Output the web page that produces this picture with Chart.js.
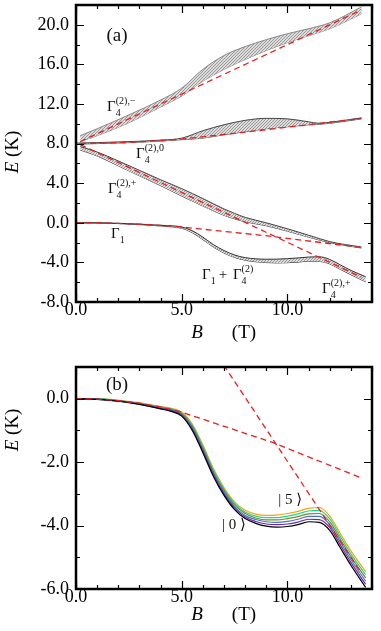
<!DOCTYPE html>
<html>
<head>
<meta charset="utf-8">
<script src="https://cdn.jsdelivr.net/npm/chart.js@4.4.1/dist/chart.umd.min.js"></script>
<style>
  body { margin: 0; background: #fff; }
  #wrap { position: relative; width: 381px; height: 631px; }
  canvas { position: absolute; left: 0; }
</style>
</head>
<body>
<div id="wrap">
  <canvas id="panelA" width="381" height="345" style="top:0"></canvas>
  <canvas id="panelB" width="381" height="286" style="top:345px"></canvas>
</div>
<script>
// ---- panel (a): bands of levels, E (K) against B (T) ----
const fieldA = [0.2, 1, 2.5, 4, 5, 6, 7, 8, 9, 10, 11, 12, 13.5];
const g4minusTop = [8.8, 9.5, 10.9, 12.4, 13.6, 15.5, 16.9, 17.8, 18.5, 19.1, 19.6, 20.2, 21.8];
const g4minusBot = [8.2, 8.8, 10.1, 11.7, 12.8, 14.3, 15.5, 16.5, 17.4, 18.2, 18.9, 19.6, 21.1];

const fieldZero = [0, 1, 2.5, 4, 5, 6, 7, 8, 9, 10, 11, 11.5, 12, 13.5];
const g4zeroTop = [8.05, 8.1, 8.2, 8.35, 8.55, 9.3, 9.9, 10.35, 10.55, 10.5, 10.2, 10.05, 10.15, 10.6];
const g4zeroBot = [7.95, 8.0, 8.1, 8.25, 8.4, 8.55, 8.9, 9.2, 9.5, 9.7, 9.9, 9.95, 10.05, 10.5];

const fieldPlus = [0.2, 1, 2, 3, 4, 5, 6, 7, 7.5, 8, 9, 10, 11, 12, 13.5];
const g4plusTop = [7.7, 7.15, 6.25, 5.3, 4.35, 3.45, 2.45, 1.4, 0.95, 0.55, 0.0, -0.6, -1.25, -1.9, -2.45];
const g4plusBot = [7.35, 6.75, 5.75, 4.75, 3.75, 2.7, 1.7, 0.75, 0.4, 0.1, -0.3, -0.85, -1.45, -2.0, -2.55];

// red dashed asymptotes
const redMinusB = [0.2, 13.5];
const redMinusE = [8.2, 21.5];
const redZeroB = [0.2, 2.5, 5, 9, 13.5];
const redZeroE = [8.0, 8.12, 8.45, 9.4, 10.55];
const redPlusB = [0.2, 13.5];
const redPlusE = [7.9, -5.5];
const redOneB = [0, 1, 2, 3, 4, 4.8, 9.3, 13.5];
const redOneE = [0, -0.01, -0.06, -0.14, -0.26, -0.38, -1.38, -2.5];

// ---- panel (b): lowest six levels |0> ... |5> ----
const fieldB = [0, 1, 2, 3, 4, 4.5, 5, 5.5, 6, 6.5, 7, 7.5, 8, 8.5, 9, 9.5, 10, 10.5, 11, 11.5, 12, 12.5, 13, 13.7];
const level0 = [0, -0.02, -0.08, -0.18, -0.32, -0.40, -0.55, -1.00, -1.70, -2.45, -3.05, -3.50, -3.78, -3.93, -4.02, -4.05, -4.03, -3.97, -3.88, -3.90, -4.15, -4.70, -5.25, -5.95];
const level1 = [0, -0.02, -0.07, -0.17, -0.31, -0.38, -0.52, -0.96, -1.65, -2.40, -3.00, -3.45, -3.73, -3.87, -3.95, -3.97, -3.95, -3.89, -3.80, -3.81, -4.06, -4.61, -5.16, -5.85];
const level2 = [0, -0.01, -0.07, -0.16, -0.29, -0.36, -0.50, -0.92, -1.60, -2.35, -2.95, -3.40, -3.68, -3.81, -3.88, -3.90, -3.87, -3.80, -3.71, -3.71, -3.97, -4.52, -5.07, -5.75];
const level3 = [0, -0.01, -0.06, -0.15, -0.28, -0.34, -0.47, -0.88, -1.55, -2.30, -2.90, -3.35, -3.62, -3.76, -3.82, -3.82, -3.78, -3.72, -3.63, -3.62, -3.88, -4.43, -4.98, -5.65];
const level4 = [0, 0.00, -0.06, -0.14, -0.26, -0.32, -0.45, -0.84, -1.50, -2.25, -2.85, -3.30, -3.57, -3.70, -3.75, -3.75, -3.70, -3.63, -3.54, -3.52, -3.79, -4.34, -4.89, -5.55];
const level5 = [0, 0.00, -0.05, -0.13, -0.25, -0.30, -0.42, -0.80, -1.45, -2.20, -2.80, -3.25, -3.52, -3.64, -3.68, -3.67, -3.62, -3.55, -3.46, -3.43, -3.70, -4.25, -4.80, -5.45];

const levelColors = ['#000000', '#6a2aa0', '#4a6ee0', '#7a8a20', '#10e090', '#ffa010'];

const SERIF = '"Liberation Serif", "DejaVu Serif", serif';
const RED = '#f01c1c';

// fine grey hatching, like many close lines drawn side by side
function hatching() {
    const c = document.createElement('canvas');
    c.width = 3; c.height = 3;
    const g = c.getContext('2d');
    g.fillStyle = '#dadada';
    g.fillRect(0, 0, 3, 3);
    g.fillStyle = '#9c9c9c';
    g.fillRect(0, 0, 1, 1);
    g.fillRect(2, 1, 1, 1);
    g.fillRect(1, 2, 1, 1);
    return g.createPattern(c, 'repeat');
}
const HATCH = hatching();

function xy(xs, ys) {
    return xs.map((x, i) => ({ x: x, y: ys[i] }));
}

function redLine(xs, ys) {
    return {
        data: xy(xs, ys), borderColor: RED, borderWidth: 1.3, borderDash: [6, 4],
        pointRadius: 0, tension: 0, fill: false, order: 0
    };
}

function band(xs, top, bot, edge) {
    return [{
        data: xy(xs, top), borderColor: edge, borderWidth: 1, pointRadius: 0,
        cubicInterpolationMode: 'monotone', fill: '+1', backgroundColor: HATCH, order: 2
    }, {
        data: xy(xs, bot), borderColor: edge, borderWidth: 1, pointRadius: 0,
        cubicInterpolationMode: 'monotone', fill: false, order: 2
    }];
}

function onStep(v, s) {
    return Math.abs(v / s - Math.round(v / s)) < 1e-6;
}

function noOverflow(s) {
    s.paddingTop = 0; s.paddingBottom = 0; s.paddingLeft = 0; s.paddingRight = 0;
}

function scales(yMin, yMax, yStep, yMajor, xHeight) {
    const font = { family: SERIF, size: 18 };
    return {
        x: {
            type: 'linear', min: 0, max: 14,
            grid: { display: false, drawTicks: false }, border: { display: false },
            ticks: {
                stepSize: 1, autoSkip: false, maxRotation: 0, padding: -3, color: '#000', font: font,
                callback: v => onStep(v, 5) ? v.toFixed(1) : ''
            },
            afterFit: s => { s.height = xHeight; noOverflow(s); }
        },
        y: {
            type: 'linear', min: yMin, max: yMax,
            grid: { display: false, drawTicks: false }, border: { display: false },
            ticks: {
                stepSize: yStep, autoSkip: false, padding: 7, color: '#000', font: font,
                callback: v => onStep(v, yMajor) ? v.toFixed(1) : ''
            },
            afterFit: s => { s.width = 76; noOverflow(s); }
        }
    };
}

// Γ with subscript and optional superscript, (bx, be) is the baseline start in data units
function gamma(ctx, sx, sy, bx, be, sub, sup) {
    let x = sx.getPixelForValue(bx);
    const y = sy.getPixelForValue(be);
    ctx.textAlign = 'left';
    ctx.textBaseline = 'alphabetic';
    ctx.font = '15px ' + SERIF;
    ctx.fillText('\u0393', x, y);
    x += ctx.measureText('\u0393').width;
    ctx.font = '10px ' + SERIF;
    ctx.fillText(sub, x, y + 5);
    let w = ctx.measureText(sub).width;
    if (sup) {
        ctx.fillText(sup, x, y - 7);
        w = Math.max(w, ctx.measureText(sup).width);
    }
    return sx.getValueForPixel(x + w);
}

function decor(opt) {
    return {
        id: 'decor',
        afterDraw(chart) {
            const ctx = chart.ctx;
            const a = chart.chartArea;
            const sx = chart.scales.x, sy = chart.scales.y;
            ctx.save();
            ctx.strokeStyle = '#000';
            ctx.lineWidth = 1.2;
            ctx.beginPath();
            sx.ticks.forEach(t => {
                if (!onStep(t.value, 1)) return;
                const p = Math.round(sx.getPixelForValue(t.value)) + 0.5;
                const len = t.label ? 8 : 4;
                ctx.moveTo(p, a.bottom); ctx.lineTo(p, a.bottom - len);
                ctx.moveTo(p, a.top); ctx.lineTo(p, a.top + len);
            });
            sy.ticks.forEach(t => {
                if (!onStep(t.value, opt.yStep)) return;
                const p = Math.round(sy.getPixelForValue(t.value)) + 0.5;
                const len = t.label ? 8 : 4;
                ctx.moveTo(a.left, p); ctx.lineTo(a.left + len, p);
                ctx.moveTo(a.right, p); ctx.lineTo(a.right - len, p);
            });
            ctx.stroke();
            ctx.lineWidth = 2.5;
            ctx.strokeRect(a.left, a.top, a.right - a.left, a.bottom - a.top);

            // axis titles
            ctx.fillStyle = '#000';
            const mid = (a.left + a.right) / 2;
            const ty = a.bottom + opt.xTitleGap;
            ctx.textBaseline = 'middle';
            ctx.textAlign = 'center';
            ctx.font = 'italic 19px ' + SERIF;
            ctx.fillText('B', mid - 27, ty);
            ctx.font = '19px ' + SERIF;
            ctx.fillText('(T)', mid + 20, ty);

            ctx.save();
            ctx.translate(13, opt.yTitleY);
            ctx.rotate(-Math.PI / 2);
            ctx.font = 'italic 19px ' + SERIF;
            const wE = ctx.measureText('E ').width;
            ctx.font = '19px ' + SERIF;
            const wK = ctx.measureText('(K)').width;
            ctx.textAlign = 'left';
            ctx.font = 'italic 19px ' + SERIF;
            ctx.fillText('E', -(wE + wK) / 2, 0);
            ctx.font = '19px ' + SERIF;
            ctx.fillText('(K)', -(wE + wK) / 2 + wE, 0);
            ctx.restore();

            ctx.fillStyle = '#111';
            opt.labels(ctx, sx, sy);
            ctx.restore();
        }
    };
}

const chartA = new Chart(document.getElementById('panelA'), {
    type: 'line',
    data: {
        datasets: [
            redLine(redMinusB, redMinusE),
            redLine(redZeroB, redZeroE),
            redLine(redPlusB, redPlusE),
            redLine(redOneB, redOneE),
            ...band(fieldA, g4minusTop, g4minusBot, '#888'),
            ...band(fieldZero, g4zeroTop, g4zeroBot, '#444'),
            ...band(fieldPlus, g4plusTop, g4plusBot, '#444'),
            ...band(fieldB, level5, level0, '#333')
        ]
    },
    options: {
        responsive: false, animation: false, events: [],
        layout: { padding: { top: 5, right: 9, left: 0, bottom: 0 } },
        plugins: { legend: { display: false }, tooltip: { enabled: false } },
        scales: scales(-8, 22, 2, 4, 43)
    },
    plugins: [decor({
        yStep: 2, xTitleGap: 31, yTitleY: 152,
        labels(ctx, sx, sy) {
            ctx.font = '19px ' + SERIF;
            ctx.textAlign = 'center';
            ctx.textBaseline = 'middle';
            ctx.fillText('(a)', sx.getPixelForValue(1.94), sy.getPixelForValue(18.9));
            gamma(ctx, sx, sy, 1.47, 11.3, '4', '(2),\u2212');
            gamma(ctx, sx, sy, 2.84, 6.57, '4', '(2),0');
            gamma(ctx, sx, sy, 1.51, 3.03, '4', '(2),+');
            gamma(ctx, sx, sy, 1.66, -1.52, '1');
            let after = gamma(ctx, sx, sy, 5.96, -5.66, '1');
            ctx.font = '15px ' + SERIF;
            ctx.textAlign = 'left';
            const px = sx.getPixelForValue(after) + 3;
            ctx.fillText('+', px, sy.getPixelForValue(-5.66));
            const next = sx.getValueForPixel(px + ctx.measureText('+ ').width + 2);
            gamma(ctx, sx, sy, next, -5.66, '4', '(2)');
            gamma(ctx, sx, sy, 11.64, -7.08, '4', '(2),+');
        }
    })]
});

const chartB = new Chart(document.getElementById('panelB'), {
    type: 'line',
    data: {
        datasets: [
            redLine(redPlusB, redPlusE),
            redLine(redOneB, redOneE)
        ].concat([level0, level1, level2, level3, level4, level5].map((lv, i) => ({
            data: xy(fieldB, lv), borderColor: levelColors[i], borderWidth: 1.2, pointRadius: 0,
            cubicInterpolationMode: 'monotone', fill: false, order: 1
        })))
    },
    options: {
        responsive: false, animation: false, events: [],
        layout: { padding: { top: 22, right: 9, left: 0, bottom: 0 } },
        plugins: { legend: { display: false }, tooltip: { enabled: false } },
        scales: scales(-6, 1, 1, 2, 42)
    },
    plugins: [decor({
        yStep: 1, xTitleGap: 26, yTitleY: 430 - 345,
        labels(ctx, sx, sy) {
            ctx.font = '19px ' + SERIF;
            ctx.textAlign = 'center';
            ctx.textBaseline = 'middle';
            ctx.fillText('(b)', sx.getPixelForValue(1.94), sy.getPixelForValue(0.42));
            ctx.font = '15px ' + SERIF;
            ctx.textAlign = 'left';
            ctx.fillText('| 5 \u27E9', sx.getPixelForValue(9.56), sy.getPixelForValue(-3.18));
            ctx.fillText('| 0 \u27E9', sx.getPixelForValue(6.9), sy.getPixelForValue(-3.97));
        }
    })]
});
</script>
</body>
</html>
